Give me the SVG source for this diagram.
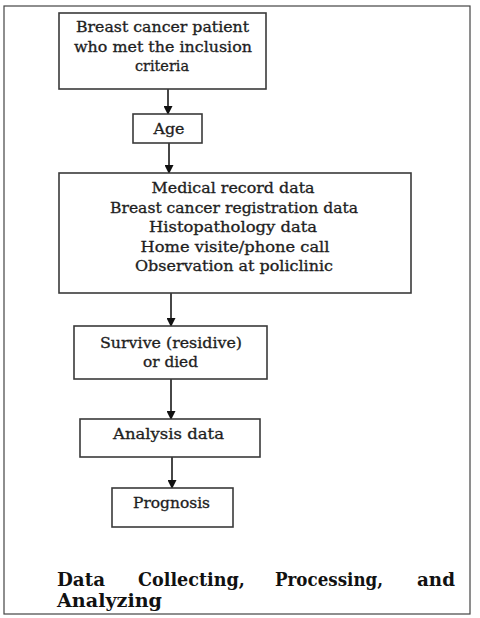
<svg xmlns="http://www.w3.org/2000/svg" width="480" height="618" viewBox="0 0 480 618">
<style>
.box{fill:#fff;stroke:#3a3a3a;stroke-width:1.6}
.t{font-family:"DejaVu Serif","Liberation Serif",serif;font-size:14px;fill:#1e1e1e;stroke:#1e1e1e;stroke-width:0.3;text-anchor:middle}
.h{font-family:"DejaVu Serif","Liberation Serif",serif;font-size:18px;font-weight:bold;fill:#111}
.c{stroke:#333;stroke-width:1.8;fill:none}
</style>
<defs>
<marker id="ah" markerWidth="9" markerHeight="9" refX="8" refY="4.5" orient="auto" markerUnits="userSpaceOnUse">
<path d="M0,0 L9,4.5 L0,9 Z" fill="#111"/>
</marker>
</defs>
<rect x="0" y="0" width="480" height="618" fill="#fff"/>
<rect x="4" y="6" width="466" height="608" fill="none" stroke="#444" stroke-width="1.2"/>
<g id="connectors">
<line class="c" x1="168" y1="89" x2="168" y2="114" marker-end="url(#ah)"/>
<line class="c" x1="169" y1="143" x2="169" y2="173" marker-end="url(#ah)"/>
<line class="c" x1="171" y1="289" x2="171" y2="326" marker-end="url(#ah)"/>
<line class="c" x1="171" y1="379" x2="171" y2="419" marker-end="url(#ah)"/>
<line class="c" x1="172" y1="457" x2="172" y2="488" marker-end="url(#ah)"/>
</g>
<g id="n1">
<rect class="box" x="59" y="13" width="207" height="76"/>
<text class="t" x="162.5" y="32" textLength="173" lengthAdjust="spacingAndGlyphs">Breast cancer patient</text>
<text class="t" x="163" y="52" textLength="178" lengthAdjust="spacingAndGlyphs">who met the inclusion</text>
<text class="t" x="162" y="71" textLength="54" lengthAdjust="spacingAndGlyphs">criteria</text>
</g>
<g id="n2">
<rect class="box" x="133" y="114" width="69" height="29"/>
<text class="t" x="169" y="134" textLength="31" lengthAdjust="spacingAndGlyphs">Age</text>
</g>
<g id="n3">
<rect class="box" x="59" y="173" width="352" height="120"/>
<text class="t" x="233" y="193" textLength="163" lengthAdjust="spacingAndGlyphs">Medical record data</text>
<text class="t" x="234" y="213" textLength="248" lengthAdjust="spacingAndGlyphs">Breast cancer registration data</text>
<text class="t" x="233" y="232" textLength="168" lengthAdjust="spacingAndGlyphs">Histopathology data</text>
<text class="t" x="235" y="252" textLength="189" lengthAdjust="spacingAndGlyphs">Home visite/phone call</text>
<text class="t" x="234" y="271" textLength="198" lengthAdjust="spacingAndGlyphs">Observation at policlinic</text>
</g>
<g id="n4">
<rect class="box" x="74" y="326" width="193" height="53"/>
<text class="t" x="171" y="348" textLength="142" lengthAdjust="spacingAndGlyphs">Survive (residive)</text>
<text class="t" x="170.5" y="367" textLength="55" lengthAdjust="spacingAndGlyphs">or died</text>
</g>
<g id="n5">
<rect class="box" x="80" y="419" width="180" height="38"/>
<text class="t" x="168.5" y="439" textLength="111" lengthAdjust="spacingAndGlyphs">Analysis data</text>
</g>
<g id="n6">
<rect class="box" x="112" y="488" width="121" height="39"/>
<text class="t" x="171.5" y="508" textLength="77" lengthAdjust="spacingAndGlyphs">Prognosis</text>
</g>
<g id="title">
<text class="h" x="57" y="586" textLength="48" lengthAdjust="spacingAndGlyphs">Data</text>
<text class="h" x="138" y="586" textLength="107" lengthAdjust="spacingAndGlyphs">Collecting,</text>
<text class="h" x="275" y="586" textLength="108" lengthAdjust="spacingAndGlyphs">Processing,</text>
<text class="h" x="417" y="586" textLength="38" lengthAdjust="spacingAndGlyphs">and</text>
<text class="h" x="57" y="607" textLength="105" lengthAdjust="spacingAndGlyphs">Analyzing</text>
</g>
</svg>
